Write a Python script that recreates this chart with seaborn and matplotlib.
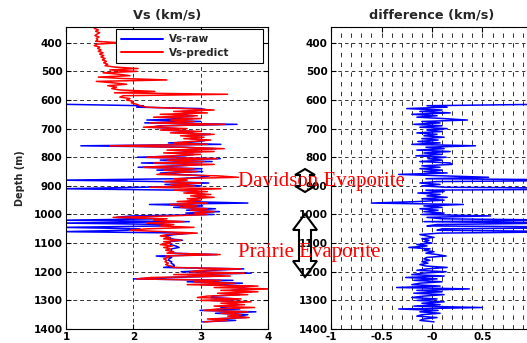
import numpy as np
import pandas as pd
import seaborn as sns
import matplotlib.pyplot as plt
from matplotlib.patches import Polygon

# depth samples every 5 m, 345 .. 1375 m
depth = np.arange(345, 1380, 5)

vs_predict = np.array([
    1.45, 1.42, 1.48, 1.44, 1.50, 1.46, 1.43, 1.49, 1.45, 1.47,   # 345
    1.44, 1.80, 1.46, 1.42, 1.50, 1.47, 1.52, 1.48, 1.55, 1.50,   # 395
    1.56, 1.52, 1.58, 1.54, 1.60, 1.56, 1.62, 1.58, 1.72, 2.07,   # 445
    1.65, 2.05, 1.55, 1.78, 1.95, 1.48, 1.85, 2.50, 1.45, 1.70,   # 495
    1.90, 1.62, 1.75, 1.68, 1.80, 2.32, 1.72, 3.40, 1.85, 1.80,   # 545
    1.95, 1.90, 2.00, 1.97, 2.05, 2.10, 2.20, 2.75, 3.20, 2.60,   # 595
    3.10, 2.40, 2.95, 2.30, 3.00, 2.55, 2.90, 2.25, 3.36, 2.50,   # 645
    2.15, 2.80, 2.40, 3.00, 2.55, 3.20, 2.70, 3.05, 2.75, 3.15,   # 695
    2.85, 2.60, 3.10, 1.65, 2.70, 3.35, 2.50, 3.20, 2.45, 3.00,   # 745
    2.60, 2.20, 3.25, 2.50, 3.05, 2.30, 3.20, 2.60, 2.15, 2.90,   # 795
    2.45, 2.95, 2.55, 2.35, 3.25, 3.56, 2.60, 2.80, 2.45, 3.00,   # 845
    2.55, 2.90, 2.25, 3.30, 2.60, 3.10, 2.75, 3.15, 2.85, 3.20,   # 895
    2.80, 3.00, 2.65, 3.10, 2.55, 2.95, 2.70, 3.10, 2.85, 3.20,   # 945
    2.90, 3.10, 2.55, 1.70, 2.50, 2.30, 2.75, 2.20, 2.60, 2.40,   # 995
    2.90, 2.20, 1.95, 2.45, 2.95, 2.50, 2.40, 2.55, 2.45, 2.70,   # 1045
    2.45, 2.55, 2.40, 2.58, 2.45, 2.55, 2.48, 2.60, 2.50, 3.29,   # 1095
    2.48, 2.52, 2.45, 2.50, 2.47, 2.52, 2.48, 2.55, 2.60, 3.59,   # 1145
    3.00, 2.85, 3.65, 2.60, 3.44, 2.27, 2.05, 3.30, 2.90, 3.50,   # 1195
    2.80, 3.85, 3.20, 4.05, 3.30, 3.85, 3.25, 3.70, 3.10, 2.95,   # 1245
    3.60, 3.00, 3.75, 3.30, 3.65, 3.20, 3.80, 3.25, 3.05, 3.70,   # 1295
    3.30, 3.60, 3.40, 3.72, 3.10, 3.40, 3.05,                     # 1345
])

nan = np.nan
difference = np.array([
    nan, nan, nan, nan, nan, nan, nan, nan, nan, nan,             # 345
    nan, nan, nan, nan, nan, nan, nan, nan, nan, nan,             # 395
    nan, nan, nan, nan, nan, nan, nan, nan, nan, nan,             # 445
    nan, nan, nan, nan, nan, nan, nan, nan, nan, nan,             # 495
    nan, nan, nan, nan, nan, nan, nan, nan, nan, nan,             # 545
    nan, nan, nan, nan, 1.10, -0.05, 0.15, -0.25, 0.10, -0.12,    # 595
    0.18, -0.20, 0.05, -0.15, 0.12, 0.35, -0.10, 0.08, -0.18, 0.10,   # 645
    -0.12, 0.15, -0.05, 0.10, -0.15, 0.05, -0.08, 0.12, -0.10, 0.06,  # 695
    -0.14, 0.08, -0.20, 0.43, -0.06, 0.12, -0.15, 0.18, -0.08, 0.10,  # 745
    -0.16, 0.14, -0.04, 0.10, -0.12, 0.18, 0.20, -0.10, 0.08, -0.12,  # 795
    0.10, -0.08, 0.15, -0.33, 0.12, 0.56, -0.06, 1.85, 0.05, -0.12,   # 845
    0.08, -0.10, 0.14, 2.35, -0.06, 0.12, -0.14, 0.08, -0.05, 0.15,   # 895
    -0.10, 0.12, -0.15, -0.60, 0.31, -0.08, 0.10, -0.12, 0.06, -0.08, # 945
    0.12, -0.10, 0.58, -0.05, 0.10, 1.35, -0.08, 1.25, 0.05, -0.05,   # 995
    1.95, 0.10, 0.05, 1.50, 0.08, -0.12, -0.05, 0.02, -0.10, -0.03,   # 1045
    -0.08, 0.00, -0.15, -0.05, -0.23, -0.02, -0.08, 0.02, -0.06, 0.05, # 1095
    0.14, -0.05, -0.08, -0.02, -0.10, -0.04, -0.12, -0.06, 0.15, -0.05, # 1145
    -0.15, 0.14, -0.10, -0.20, 0.12, -0.26, 0.05, -0.18, 0.10, -0.12, # 1195
    -0.20, 0.08, -0.35, 0.37, -0.15, 0.10, -0.18, 0.12, -0.08, -0.20, # 1245
    0.05, -0.15, 0.12, -0.10, 0.08, -0.18, 0.50, -0.33, 0.06, -0.12,  # 1295
    0.08, -0.10, -0.15, 0.05, -0.08, -0.12, 0.02,                     # 1345
])

vs_raw = vs_predict - difference

vs_ticks = [1, 2, 3, 4]
diff_ticks = [-1, -0.5, 0, 0.5, 1]
diff_ticklabels = ['-1', '-0.5', '-0', '0.5', '1']
depth_ticks = list(range(400, 1401, 100))

df = pd.DataFrame({'depth': depth, 'raw': vs_raw, 'predict': vs_predict, 'diff': difference})

sns.set_theme(style='ticks')
plt.rcParams.update({
    'font.family': ['DejaVu Sans'],
    'font.weight': 'bold',
    'axes.titleweight': 'bold',
    'axes.labelweight': 'bold',
    'axes.edgecolor': 'black',
    'axes.linewidth': 0.8,
    'xtick.direction': 'in',
    'ytick.direction': 'in',
    'xtick.top': True,
    'ytick.right': True,
    'xtick.major.size': 3.5,
    'ytick.major.size': 3.5,
    'xtick.color': 'black',
    'ytick.color': 'black',
})

W, H = 527, 343
fig = plt.figure(figsize=(W / 100, H / 100), dpi=100)
ax1 = fig.add_axes([66 / W, 14 / H, 202 / W, 302 / H])
ax2 = fig.add_axes([331 / W, 14 / H, 202 / W, 302 / H])

# left panel: raw vs predicted velocity
sns.lineplot(data=df, x='raw', y='depth', orient='y', sort=False, estimator=None,
             color='blue', lw=1.1, label='Vs-raw', ax=ax1)
sns.lineplot(data=df, x='predict', y='depth', orient='y', sort=False, estimator=None,
             color='red', lw=1.1, label='Vs-predict', ax=ax1)
ax1.set_xlim(1, 4)
ax1.set_ylim(1400, 345)
ax1.set_xticks(vs_ticks)
ax1.set_yticks(depth_ticks)
ax1.tick_params(labelsize=7.5, pad=2.5, width=0.8)
ax1.grid(True, which='major', color='0.2', lw=0.7, ls=(0, (4, 3)))
ax1.set_xlabel('')
ax1.set_ylabel('Depth (m)', fontsize=7, labelpad=6)
ax1.set_title('Vs (km/s)', fontsize=9.3, pad=6)
leg = ax1.legend(loc='upper left', bbox_to_anchor=(0.2475, 0.5, 0.728, 0.4934), mode='expand',
                 borderaxespad=0, fontsize=7.5, handlelength=4.0, handletextpad=0.6,
                 borderpad=0.5, labelspacing=0.35, fancybox=False, framealpha=1,
                 edgecolor='black')
leg.get_frame().set_linewidth(0.8)
for line in leg.get_lines():
    line.set_linewidth(1.4)

# right panel: difference
sns.lineplot(data=df, x='diff', y='depth', orient='y', sort=False, estimator=None,
             color='blue', lw=1.1, ax=ax2)
ax2.set_xlim(-1, 1)
ax2.set_ylim(1400, 345)
ax2.set_xticks(diff_ticks)
ax2.set_xticklabels(diff_ticklabels)
ax2.set_xticks(np.arange(-0.9, 0.95, 0.1), minor=True)
ax2.set_yticks(depth_ticks)
ax2.tick_params(labelsize=7.5, pad=2.5, width=0.8)
ax2.tick_params(which='minor', length=0)
ax2.grid(True, which='both', axis='x', color='0.2', lw=0.7, ls=(0, (4.5, 5.5)))
ax2.grid(True, which='major', axis='y', color='0.2', lw=0.7, ls=(0, (3.5, 3.5)))
ax2.set_xlabel('')
ax2.set_ylabel('')
ax2.set_title('difference (km/s)', fontsize=9.3, pad=6)


def double_arrow(cx, top, bottom, head_w, head_l, shaft_w):
    pts = [(cx, top), (cx + head_w, top + head_l), (cx + shaft_w, top + head_l),
           (cx + shaft_w, bottom - head_l), (cx + head_w, bottom - head_l), (cx, bottom),
           (cx - head_w, bottom - head_l), (cx - shaft_w, bottom - head_l),
           (cx - shaft_w, top + head_l), (cx - head_w, top + head_l)]
    pts = [(x / W, 1 - y / H) for x, y in pts]
    fig.add_artist(Polygon(pts, closed=True, fill=False, ec='black', lw=1.5,
                           transform=fig.transFigure))


double_arrow(305, 169, 192, 10, 6, 5)
double_arrow(305, 214, 277, 12, 16, 6)

fig.text(238 / W, 1 - 186 / H, 'Davidson Evaporite', color='red', fontsize=15,
         family='Liberation Serif', fontweight='normal', va='baseline', ha='left')
fig.text(238 / W, 1 - 257 / H, 'Prairie Evaporite', color='red', fontsize=15,
         family='Liberation Serif', fontweight='normal', va='baseline', ha='left')

fig.savefig('out.png', dpi=100)
